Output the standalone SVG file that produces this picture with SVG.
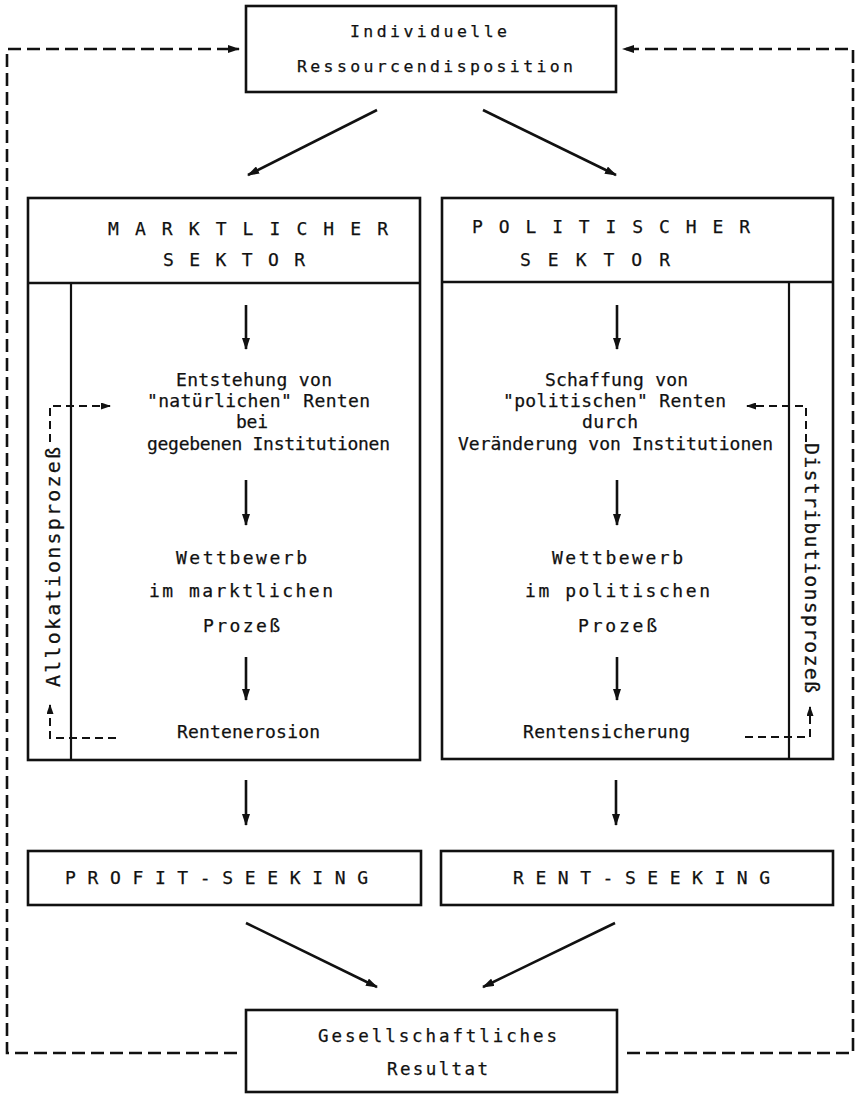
<svg xmlns="http://www.w3.org/2000/svg" width="855" height="1094" viewBox="0 0 855 1094">
<style>
  .box{fill:none;stroke:#111;stroke-width:2.6}
  .ln{fill:none;stroke:#111;stroke-width:2.2}
  .ar{fill:none;stroke:#111;stroke-width:2.6;marker-end:url(#ah)}
  .dl{fill:none;stroke:#111;stroke-width:2.6;stroke-dasharray:13 6}
  .ds{fill:none;stroke:#111;stroke-width:2;stroke-dasharray:8 5}
  text{font-family:"DejaVu Sans Mono","Liberation Mono",monospace;fill:#111;stroke:#111;stroke-width:0.25;font-size:18px}
  .hd{font-size:18px}
  .sm{font-size:16.5px}
  .bt{font-size:17.5px}
  .rot{font-size:20px}
</style>
<defs>
  <marker id="ah" viewBox="0 0 12 8" refX="11" refY="4" markerWidth="12" markerHeight="8" markerUnits="userSpaceOnUse" orient="auto">
    <path d="M0,0 L12,4 L0,8 z" fill="#111"/>
  </marker>
  <marker id="ahs" viewBox="0 0 10 7" refX="9" refY="3.5" markerWidth="10" markerHeight="7" markerUnits="userSpaceOnUse" orient="auto">
    <path d="M0,0 L10,3.5 L0,7 z" fill="#111"/>
  </marker>
</defs>

<g id="node-individuelle">
  <rect class="box" x="246" y="6" width="370" height="86"/>
  <text class="sm" x="350" y="37" textLength="157" lengthAdjust="spacing">Individuelle</text>
  <text class="sm" x="297" y="72" textLength="276" lengthAdjust="spacing">Ressourcendisposition</text>
</g>

<g id="node-marktlich">
  <rect class="box" x="28" y="198" width="392" height="562"/>
  <line class="box" x1="28" y1="283" x2="420" y2="283"/>
  <line class="ln" x1="71" y1="283" x2="71" y2="760"/>
  <text class="hd" x="108" y="235" textLength="280" lengthAdjust="spacing">M A R K T L I C H E R</text>
  <text class="hd" x="163" y="266" textLength="142" lengthAdjust="spacing">S E K T O R</text>
  <text x="176" y="386" textLength="156" lengthAdjust="spacing">Entstehung von</text>
  <text x="147" y="407" textLength="223" lengthAdjust="spacing">"natürlichen" Renten</text>
  <text x="236" y="428" textLength="32" lengthAdjust="spacing">bei</text>
  <text x="147" y="450" textLength="243" lengthAdjust="spacing">gegebenen Institutionen</text>
  <text x="176" y="564" textLength="131" lengthAdjust="spacing">Wettbewerb</text>
  <text x="149" y="597" textLength="184" lengthAdjust="spacing">im marktlichen</text>
  <text x="203" y="632" textLength="77" lengthAdjust="spacing">Prozeß</text>
  <text x="177" y="738" textLength="143" lengthAdjust="spacing">Rentenerosion</text>
  <text class="rot" transform="translate(60,687) rotate(-90)" textLength="240" lengthAdjust="spacing">Allokationsprozeß</text>
</g>

<g id="node-politisch">
  <rect class="box" x="442" y="198" width="391" height="561"/>
  <line class="box" x1="442" y1="282" x2="833" y2="282"/>
  <line class="ln" x1="789" y1="282" x2="789" y2="759"/>
  <text class="hd" x="472" y="233" textLength="278" lengthAdjust="spacing">P O L I T I S C H E R</text>
  <text class="hd" x="520" y="266" textLength="150" lengthAdjust="spacing">S E K T O R</text>
  <text x="545" y="386" textLength="143" lengthAdjust="spacing">Schaffung von</text>
  <text x="503" y="407" textLength="223" lengthAdjust="spacing">"politischen" Renten</text>
  <text x="582" y="428" textLength="56" lengthAdjust="spacing">durch</text>
  <text x="458" y="450" textLength="315" lengthAdjust="spacing">Veränderung von Institutionen</text>
  <text x="552" y="564" textLength="131" lengthAdjust="spacing">Wettbewerb</text>
  <text x="525" y="597" textLength="185" lengthAdjust="spacing">im politischen</text>
  <text x="578" y="632" textLength="79" lengthAdjust="spacing">Prozeß</text>
  <text x="523" y="738" textLength="167" lengthAdjust="spacing">Rentensicherung</text>
  <text class="rot" transform="translate(805,443) rotate(90)" textLength="250" lengthAdjust="spacing">Distributionsprozeß</text>
</g>

<g id="node-profit">
  <rect class="box" x="28" y="851" width="393" height="54"/>
  <text class="hd" x="65" y="884" textLength="303" lengthAdjust="spacing">P R O F I T - S E E K I N G</text>
</g>

<g id="node-rent">
  <rect class="box" x="441" y="851" width="392" height="54"/>
  <text class="hd" x="513" y="884" textLength="257" lengthAdjust="spacing">R E N T - S E E K I N G</text>
</g>

<g id="node-resultat">
  <rect class="box" x="246" y="1010" width="371" height="82"/>
  <text class="bt" x="318" y="1042" textLength="239" lengthAdjust="spacing">Gesellschaftliches</text>
  <text class="bt" x="387" y="1075" textLength="101" lengthAdjust="spacing">Resultat</text>
</g>

<g id="connectors">
  <line class="ar" x1="377" y1="110" x2="248" y2="175"/>
  <line class="ar" x1="483" y1="110" x2="616" y2="175"/>
  <line class="ar" x1="246" y1="305" x2="246" y2="349"/>
  <line class="ar" x1="246" y1="480" x2="246" y2="525"/>
  <line class="ar" x1="246" y1="657" x2="246" y2="700"/>
  <line class="ar" x1="617" y1="305" x2="617" y2="349"/>
  <line class="ar" x1="617" y1="480" x2="617" y2="525"/>
  <line class="ar" x1="617" y1="657" x2="617" y2="700"/>
  <line class="ar" x1="246" y1="780" x2="246" y2="825"/>
  <line class="ar" x1="616" y1="780" x2="616" y2="825"/>
  <line class="ar" x1="246" y1="923" x2="377" y2="987"/>
  <line class="ar" x1="615" y1="923" x2="483" y2="987"/>
  <path class="dl" d="M237,1053 H7 V49 H239" marker-end="url(#ah)"/>
  <path class="dl" d="M627,1053 H853 V49 H623" marker-end="url(#ah)"/>
  <path class="ds" d="M50,442 V406 H110" marker-end="url(#ahs)"/>
  <path class="ds" d="M116,738 H50 V705" marker-end="url(#ahs)"/>
  <path class="ds" d="M806,442 V406 H747" marker-end="url(#ahs)"/>
  <path class="ds" d="M745,737 H810 V707" marker-end="url(#ahs)"/>
</g>
</svg>
